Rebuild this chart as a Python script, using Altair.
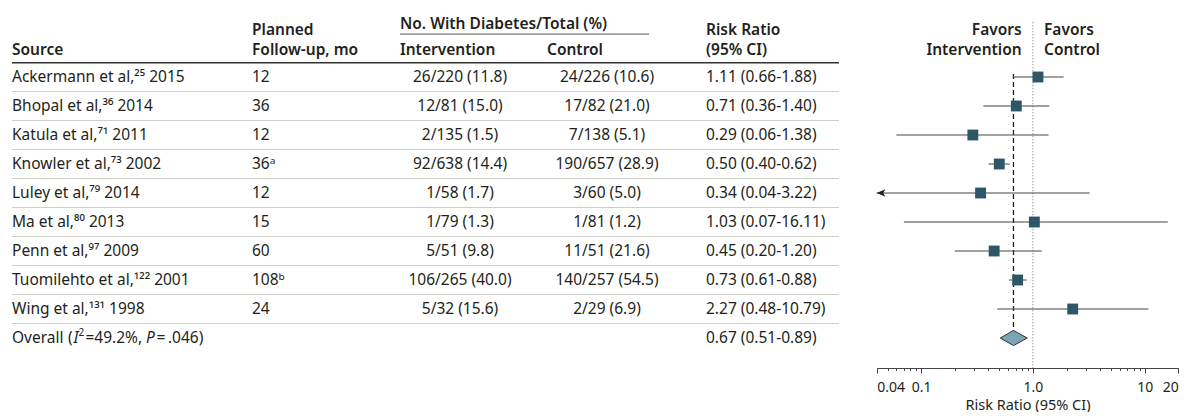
import altair as alt
import pandas as pd

# ---------------- data ----------------
sources = ["Ackermann et al,²⁵ 2015", "Bhopal et al,³⁶ 2014", "Katula et al,⁷¹ 2011",
           "Knowler et al,⁷³ 2002", "Luley et al,⁷⁹ 2014", "Ma et al,⁸⁰ 2013",
           "Penn et al,⁹⁷ 2009", "Tuomilehto et al,¹²² 2001", "Wing et al,¹³¹ 1998"]
followup = ["12", "36", "12", "36ᵃ", "12", "15", "60", "108ᵇ", "24"]
intervention = ["26/220 (11.8)", "12/81 (15.0)", "2/135 (1.5)", "92/638 (14.4)", "1/58 (1.7)",
                "1/79 (1.3)", "5/51 (9.8)", "106/265 (40.0)", "5/32 (15.6)"]
control = ["24/226 (10.6)", "17/82 (21.0)", "7/138 (5.1)", "190/657 (28.9)", "3/60 (5.0)",
           "1/81 (1.2)", "11/51 (21.6)", "140/257 (54.5)", "2/29 (6.9)"]
rr = [1.11, 0.71, 0.29, 0.50, 0.34, 1.03, 0.45, 0.73, 2.27]
rr_lo = [0.66, 0.36, 0.06, 0.40, 0.04, 0.07, 0.20, 0.61, 0.48]
rr_hi = [1.88, 1.40, 1.38, 0.62, 3.22, 16.11, 1.20, 0.88, 10.79]
overall = (0.67, 0.51, 0.89)
overall_label = "Overall"
overall_stats = ["(", "I", "2", "=49.2%,", "P", "=\u2009.046)"]

major_ticks = [0.04, 0.1, 1, 10, 20]
major_labels = ["0.04", "0.1", "1.0", "10", "20"]
minor_ticks = [0.05, 0.06, 0.07, 0.08, 0.09, 0.2, 0.3, 0.4, 0.5, 0.6, 0.7, 0.8, 0.9,
               2, 3, 4, 5, 6, 7, 8, 9]

# ---------------- style ----------------
FONT = "Noto Sans"
TEXT = "#231f20"
FS = 15.5
SQUARE = "#2d5767"
DIAMOND = "#7ba5b4"

n = len(sources)
rows = list(range(n))
fmt = lambda v: f"{v:.2f}"
df = pd.DataFrame({
    "row": rows, "source": sources, "followup": followup,
    "intervention": intervention, "control": control,
    "rr": rr, "lo": rr_lo, "hi": rr_hi,
    "rrtext": [f"{fmt(a)} ({fmt(b)}-{fmt(c)})" for a, b, c in zip(rr, rr_lo, rr_hi)],
})
ov_row = n

yscale = alt.Scale(domain=[-2.379, 10.034], reverse=True, nice=False, zero=False)
Y = lambda f="row": alt.Y(f"{f}:Q", scale=yscale, axis=None)

all_ticks = major_ticks + minor_ticks
label_expr = " : ".join(
    [f"datum.value == {v} ? '{l}'" for v, l in zip(major_ticks, major_labels)]) + " : ''"
major_test = "indexof([" + ",".join(str(v) for v in major_ticks) + "], datum.value) >= 0"
xaxis = alt.Axis(values=all_ticks, labelExpr=label_expr, labelOverlap=False,
                 title="Risk Ratio (95% CI)", titleFont=FONT, titleFontSize=14.5,
                 titleFontWeight="normal", titleColor=TEXT, titlePadding=4,
                 labelFont=FONT, labelFontSize=14, labelColor=TEXT, labelPadding=7,
                 domainColor="#444", tickColor="#444", grid=False,
                 tickSize={"condition": {"test": major_test, "value": 5}, "value": 2.5})
xscale = alt.Scale(type="log", domain=[0.04, 20], range=[868.7, 1170.3], nice=False)
X = lambda f: alt.X(f"{f}:Q", scale=xscale, axis=xaxis)


def label(text, x, row, weight="normal", align="left", size=FS, style="normal", dy=0):
    d = pd.DataFrame({"t": [text], "r": [row]})
    return alt.Chart(d).mark_text(align=align, baseline="middle", font=FONT, fontSize=size,
                                  fontWeight=weight, fontStyle=style, color=TEXT, dy=dy).encode(
        x=alt.value(x), y=Y("r"), text="t:N")


def hline(row, x1, x2, color, width):
    d = pd.DataFrame({"r": [row]})
    return alt.Chart(d).mark_rule(color=color, strokeWidth=width).encode(
        x=alt.value(x1), x2=alt.value(x2), y=Y("r"))


base = alt.Chart(df)
layers = []

# table text
col = lambda field, x, align="left": base.mark_text(
    align=align, baseline="middle", font=FONT, fontSize=FS, color=TEXT).encode(
    x=alt.value(x), y=Y(), text=f"{field}:N")
layers += [col("source", 4), col("followup", 244), col("intervention", 452, "center"),
           col("control", 599, "center"), col("rrtext", 698)]

# headers
B = 600
layers += [
    label("No. With Diabetes/Total (%)", 392, -1.83, B),
    label("Planned", 244, -1.62, B), label("Follow-up, mo", 244, -0.93, B),
    label("Source", 4, -0.93, B),
    label("Intervention", 392, -0.93, B), label("Control", 539, -0.93, B),
    label("Risk Ratio", 698, -1.62, B), label("(95% CI)", 698, -0.93, B),
    label("Favors", 1013.7, -1.62, B, "right"), label("Intervention", 1013.7, -0.93, B, "right"),
    label("Favors", 1036, -1.62, B), label("Control", 1036, -0.93, B),
]
layers.append(hline(-1.48, 392, 641, "#555", 1))
layers.append(hline(-0.49, 4, 831, "#333", 1.5))
sep = pd.DataFrame({"r": [r + 0.5 for r in rows]})
layers.append(alt.Chart(sep).mark_rule(color="#cfcfca", strokeWidth=1.2).encode(
    x=alt.value(4), x2=alt.value(831), y=Y("r")))

# overall row text
layers += [
    label(overall_label, 4, ov_row),
    label(overall_stats[0], 60, ov_row),
    label(overall_stats[1], 65.5, ov_row, style="italic"),
    label(overall_stats[2], 70.5, ov_row, size=10, dy=-5),
    label(overall_stats[3], 77.5, ov_row),
    label(overall_stats[4], 138, ov_row, style="italic"),
    label(overall_stats[5], 148.5, ov_row),
    label(f"{fmt(overall[0])} ({fmt(overall[1])}-{fmt(overall[2])})", 698, ov_row),
]

# reference lines
ref = pd.DataFrame({"v": [1.0], "r1": [-1.9], "r2": [10.034]})
layers.append(alt.Chart(ref).mark_rule(color="#999", strokeDash=[1.5, 1.5], strokeWidth=1).encode(
    x=X("v"), y=Y("r1"), y2="r2:Q"))
pooled = pd.DataFrame({"v": [overall[0]], "r1": [-0.1], "r2": [ov_row - 0.26]})
layers.append(alt.Chart(pooled).mark_rule(color="#222", strokeDash=[5, 3], strokeWidth=1.3).encode(
    x=X("v"), y=Y("r1"), y2="r2:Q"))

# CI lines and squares
edge = df[df["lo"] <= 0.04]
layers.append(base.mark_rule(color="#444", strokeWidth=1).encode(x=X("lo"), x2="hi:Q", y=Y()))
layers.append(alt.Chart(edge).mark_point(
    shape="M 0 0 L 1 -0.42 L 0.75 0 L 1 0.42 Z", filled=True, opacity=1, color="#222",
    size=300).encode(x=X("lo"), y=Y()))
layers.append(base.mark_square(size=118, color=SQUARE, opacity=1).encode(x=X("rr"), y=Y()))

# diamond
half = 0.26
dia = pd.DataFrame({"x": [overall[1], overall[0], overall[2]],
                    "y1": [ov_row, ov_row - half, ov_row],
                    "y2": [ov_row, ov_row + half, ov_row]})
layers.append(alt.Chart(dia).mark_area(color=DIAMOND, stroke="#333", strokeWidth=1,
                                       opacity=1, fillOpacity=1).encode(
    x=X("x"), y=Y("y1"), y2="y2:Q"))

chart = alt.layer(*layers).properties(width=1172, height=360, padding=0).configure_view(
    stroke=None)

chart.save("out.html", embed_options={"renderer": "svg", "actions": False})
